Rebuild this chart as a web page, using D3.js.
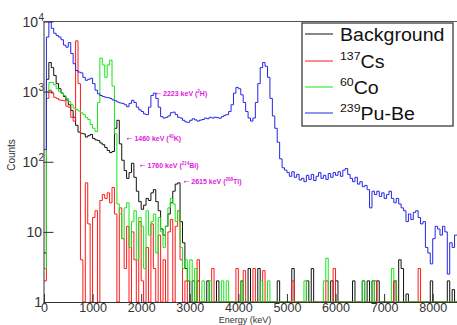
<!DOCTYPE html>
<html><head><meta charset="utf-8">
<script src="https://cdn.jsdelivr.net/npm/d3@7"></script>
<style>body{margin:0;background:#fff}svg{display:block}</style>
</head><body>
<svg id="c" width="457" height="325"></svg>
<script>
// ---------- DATA (50 keV bins, starting at 0 keV) ----------
const binWidth = 50;
const nBins = 170;

const puBe = [150,6000,9800,8000,6800,6300,6000,5500,4600,4300,
5000,3500,2500,2000,1900,1850,1600,1450,1500,1550,
1300,1050,930,880,850,830,820,800,760,740,
710,690,680,650,610,680,750,700,600,550,
520,480,470,600,880,950,800,600,440,420,
430,450,500,510,470,430,420,390,370,365,
390,410,395,380,392,400,420,410,430,420,
432,425,418,440,460,470,520,650,950,1150,
1100,900,700,520,420,380,420,700,1300,2200,
2600,2300,1600,800,450,300,190,110,82,76,
70,62,72,60,66,55,58,52,64,56,
66,54,62,70,58,64,56,68,60,70,
64,72,62,76,80,66,58,52,60,48,
52,44,46,40,22,38,34,38,32,36,
30,34,38,30,26,30,25,22,20,14,
18,15,19,20,16,13,14,6,5,3.5,
8,12,11,9,12,10,2.5,7,6,9];

const bgDense = [5,1500,2600,2200,1700,1300,1100,950,850,760,
650,540,430,330,265,255,250,225,235,245,
215,205,200,185,175,160,145,135,140,300,
390,180,105,75,58,70,95,60,38,27,
21,24,30,28,36,40,27,20,11,9,
12,18,26,38,48,50,14,7,3,2];
const bgTailE = [3050,3150,3350,3550,4050,4200,4400,4800,5100,5400,5500,5900,6000,6350,6550,6650,6750,6850,7200,7300,7350,7450,7950,8300,8400];
const bgTailN = [2,2,2,2,2,3,3,2,3,2,3,2,2,2,2,2,2,2,2,4,3,1.3,2,2,1.5];

const csDense = [2,800,1050,950,830,800,760,750,740,620,
600,430,380,5300,1300,4,0,50,13,0,
16,20,0,28,34,30,36,26,43,18,
0,22,8,3,12,0,10,4,0,14,
2,0,6,0,13,3,0,9,0,4,
0,10,15,0,12,20,4,0,2,0];
const csTailE = [3150,3450,3950,4100,4300,4500,5100,5800,5950,6800,7200,7700];
const csTailN = [4,3,3,2.8,3,2.8,2,2,3,2,2,3];

const coDense = [3,1000,1350,1350,1250,1100,1000,950,880,800,
720,650,580,560,530,500,470,430,400,340,
300,270,700,3000,2400,1600,2400,2800,1200,250,
25,18,8,22,26,6,14,20,4,16,
12,3,20,9,14,18,5,16,10,6,
12,22,30,25,14,20,6,3,4,2];
const coTailE = [3000,3100,3250,3400,3650,3750,4050,4450,4600,5350,5750,5800,6550,6750,7150,7200];
const coTailN = [4,3,2,2,2,2,2,2,2,2,2,4.2,2,2,3,2];

const seriesNames = ["Background","Cs","Co","Pu-Be"];
const seriesColors = ["#111111","#ff1a1a","#19e619","#2626e6"];
const xTicks = [0,1000,2000,3000,4000,5000,6000,7000,8000];
const yTicks = [1,10,100,1000,10000];
const yTickBase = ["1","10","10","10","10"];
const yTickSup = ["","","2","3","4"];
const annotations = [
  {E:2290, v:950,  text:" 2223 keV (", sup:"2", tail:"H)"},
  {E:1700, v:218,  text:" 1460 keV (", sup:"40", tail:"K)"},
  {E:1970, v:88,   text:" 1760 keV (", sup:"214", tail:"Bi)"},
  {E:2870, v:52,   text:" 2615 keV (", sup:"208", tail:"Tl)"}
];

// ---------- BUILD ----------
function build(dense, tE, tN){
  const a = new Array(nBins).fill(0);
  dense.forEach((v,i)=>a[i]=v);
  if (tE) tE.forEach((e,i)=>a[Math.round(e/binWidth)] = tN[i]);
  return a;
}
const series = [
  build(bgDense,bgTailE,bgTailN),
  build(csDense,csTailE,csTailN),
  build(coDense,coTailE,coTailN),
  build(puBe)
];

const svg = d3.select("#c");
const L=43.5, R=458, T=21.5, B=302;
const x = d3.scaleLinear().domain([0,8500]).range([44,457]);
const y = d3.scaleLog().domain([1,10000]).range([B,T]);
const FONT = "Liberation Sans, Arial, sans-serif";

svg.append("clipPath").attr("id","pc").append("rect")
  .attr("x",L).attr("y",T).attr("width",R-L).attr("height",B-T+1);

const line = d3.line().curve(d3.curveStepAfter)
  .x(d=>x(d[0])).y(d=>y(Math.max(d[1],1)));

const g = svg.append("g").attr("clip-path","url(#pc)");
series.forEach((s,k)=>{
  const pts = s.map((v,i)=>[i*binWidth, v]);
  pts.push([nBins*binWidth, s[s.length-1]]);
  g.append("path").datum(pts).attr("d",line)
    .attr("fill","none").attr("stroke",seriesColors[k]).attr("stroke-width",1);
});

// frame
svg.append("line").attr("x1",L).attr("x2",R).attr("y1",T).attr("y2",T).attr("stroke","#555").attr("stroke-width",1.2);

// x axis
const minorX = d3.range(0,8501,200).filter(v=>v%1000!==0);
const gx = svg.append("g").attr("transform",`translate(0,${B})`);
gx.call(d3.axisBottom(x).tickValues(minorX).tickSize(-4).tickFormat(""));
gx.call(d3.axisBottom(x).tickValues(xTicks).tickSizeInner(-8).tickSizeOuter(0).tickPadding(1).tickFormat(d3.format("d")));
gx.selectAll("path").attr("stroke","#333");
gx.selectAll("line").attr("stroke","#333");
gx.selectAll("text").attr("font-family",FONT).attr("font-size",12.5).attr("fill","#333");

// y axis
const minorY = [];
for (let d=1; d<10000; d*=10) for (let m=2; m<10; m++) minorY.push(d*m);
const gy = svg.append("g").attr("transform",`translate(${L},0)`);
gy.call(d3.axisLeft(y).tickValues(minorY).tickSize(-5).tickFormat(""));
gy.call(d3.axisLeft(y).tickValues(yTicks).tickSizeInner(-10).tickSizeOuter(0).tickFormat(""));
gy.selectAll("path").attr("stroke","#333");
gy.selectAll("line").attr("stroke","#333");

yTicks.forEach((t,i)=>{
  const tx = svg.append("text").attr("font-family",FONT)
    .attr("font-size",14).attr("fill","#333");
  if (yTickSup[i]) {
    tx.attr("x",38).attr("y",y(t)+5).attr("text-anchor","end").text(yTickBase[i]);
    svg.append("text").attr("x",38.5).attr("y",y(t)-1).attr("font-family",FONT)
      .attr("font-size",10).attr("fill","#333").text(yTickSup[i]);
  } else {
    tx.attr("x",42).attr("y",y(t)+5).attr("text-anchor","end").text(yTickBase[i]);
  }
});

// axis titles
svg.append("text").attr("transform","translate(15,155) rotate(-90)").attr("text-anchor","middle")
  .attr("font-family",FONT).attr("font-size",10).attr("fill","#333").text("Counts");
svg.append("text").attr("x",245).attr("y",323.2).attr("text-anchor","middle")
  .attr("font-family",FONT).attr("font-size",9).attr("fill","#333").text("Energy (keV)");

// annotations
annotations.forEach(a=>{
  const t = svg.append("text").attr("x",x(a.E)).attr("y",y(a.v)+2.5)
    .attr("font-family",FONT).attr("font-weight","bold")
    .attr("font-size",7).attr("fill","#e020e0");
  t.append("tspan").attr("font-family","DejaVu Sans").attr("font-weight","normal").text("←");
  t.append("tspan").text(a.text);
  t.append("tspan").attr("font-size",4.5).attr("dy",-3).text(a.sup);
  t.append("tspan").attr("dy",3).text(a.tail);
});

// legend
const lg = svg.append("g");
lg.append("rect").attr("x",302).attr("y",23).attr("width",151).attr("height",103)
  .attr("fill","#fff").attr("stroke","#555").attr("stroke-width",1.5);
const legY = [34,61,87,113];
const legSup = ["","137","60","239"];
const legMain = ["Background","Cs","Co","Pu-Be"];
legY.forEach((ly,i)=>{
  lg.append("line").attr("x1",305).attr("x2",333).attr("y1",ly).attr("y2",ly)
    .attr("stroke",seriesColors[i]).attr("stroke-width",1);
  const t = lg.append("text").attr("transform",`translate(340,${ly+7}) scale(1.12,1)`)
    .attr("font-family",FONT).attr("font-size",17.5).attr("fill","#111");
  if (legSup[i]) {
    t.append("tspan").attr("font-size",11).attr("dy",-8).text(legSup[i]);
    t.append("tspan").attr("dy",8).text(legMain[i]);
  } else t.text(legMain[i]);
});
</script>
</body></html>
